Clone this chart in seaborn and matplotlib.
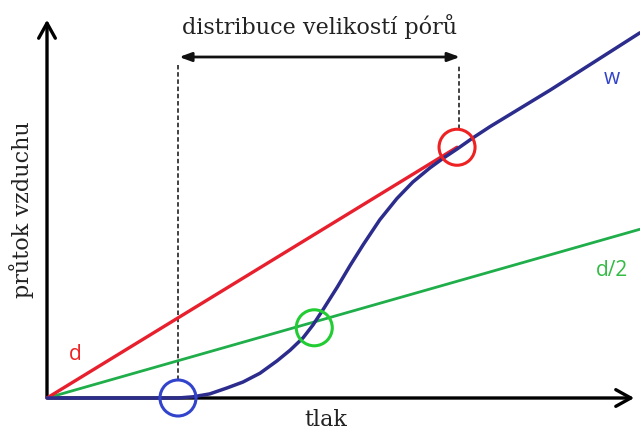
import matplotlib
matplotlib.use("Agg")
import matplotlib.pyplot as plt
import seaborn as sns
import pandas as pd
import numpy as np
from matplotlib.patches import Circle

sns.set_theme(style="white")
plt.rcParams['font.family'] = ['DejaVu Sans']

# ---- data (units: pressure vs air flow) ----
d_x = [0.0, 6.95]
d_y = [0.0, 4.25]
d2_x = [0.0, 10.05]
d2_y = [0.0, 2.86]
w_x = [0.0, 2.22, 2.47, 2.76, 3.05, 3.32, 3.61, 3.90, 4.12, 4.34, 4.51, 4.68, 4.92, 5.14, 5.36, 5.64, 5.93, 6.20, 6.49, 6.71, 6.95, 7.22, 7.51, 8.53, 10.05]
w_y = [0.0, 0.0, 0.02, 0.07, 0.17, 0.27, 0.42, 0.63, 0.81, 1.02, 1.24, 1.50, 1.88, 2.25, 2.60, 3.02, 3.38, 3.66, 3.90, 4.06, 4.22, 4.41, 4.60, 5.22, 6.19]
circle_x = [2.22, 4.53, 6.95]
circle_y = [0.0, 1.19, 4.25]
circle_colors = ["#3344cc", "#22cc33", "#ee2222"]
range_start = 2.22
range_end = 6.95

title_text = "distribuce velikostí pórů"
xlabel_text = "tlak"
ylabel_text = "průtok vzduchu"

S = 59.0  # px per unit
fig = plt.figure(figsize=(6.4, 4.3), dpi=100)
ax = fig.add_axes([0, 0, 1, 1])
ax.set_xlim(-47 / S, (640 - 47) / S)
ax.set_ylim(-(430 - 398) / S, 398 / S)
ax.axis("off")

df_d = pd.DataFrame({"x": d_x, "y": d_y})
df_d2 = pd.DataFrame({"x": d2_x, "y": d2_y})
df_w = pd.DataFrame({"x": w_x, "y": w_y})

sns.lineplot(data=df_d2, x="x", y="y", ax=ax, color="#1fae4a", linewidth=2.0, sort=False, zorder=3)
sns.lineplot(data=df_d, x="x", y="y", ax=ax, color="#e8202e", linewidth=2.4, sort=False, zorder=3)
sns.lineplot(data=df_w, x="x", y="y", ax=ax, color="#2b2c8c", linewidth=2.5, sort=False, zorder=4)

# axes arrows
ax.annotate("", xy=(0, 381 / S), xytext=(0, -2 / S),
            arrowprops=dict(arrowstyle="->,head_length=0.9,head_width=0.5", lw=2.4, color="black"), zorder=2)
ax.annotate("", xy=(590 / S, 0), xytext=(-2 / S, 0),
            arrowprops=dict(arrowstyle="->,head_length=0.9,head_width=0.5", lw=2.4, color="black"), zorder=2)

# circles
for cx, cy, cc in zip(circle_x, circle_y, circle_colors):
    ax.add_patch(Circle((cx, cy), 18 / S, fill=False, edgecolor=cc, linewidth=2.2, zorder=5))

# dashed lines
ax.plot([range_start, range_start], [18 / S, 333 / S], ls=(0, (2.5, 1.5)), color="#333333", lw=1.3, zorder=2)
ax.plot([range_end + 0.03, range_end + 0.03], [4.25 + 18 / S, 333 / S], ls=(0, (2.5, 1.5)), color="#333333", lw=1.3, zorder=2)

# range arrow
ax.annotate("", xy=(range_start + 0.02, 341 / S), xytext=(range_end + 0.05, 341 / S),
            arrowprops=dict(arrowstyle="<|-|>,head_length=0.6,head_width=0.22", lw=2.0, color="#111111",
                            shrinkA=0, shrinkB=0))

ax.text(273 / S, 371 / S, title_text, ha="center", va="center", fontsize=16,
        family="DejaVu Serif", color="#222222")
ax.text(279 / S, -22 / S, xlabel_text, ha="center", va="center", fontsize=16,
        family="DejaVu Serif", color="#222222")
ax.text(-25 / S, 188 / S, ylabel_text, ha="center", va="center", fontsize=16, rotation=90,
        family="DejaVu Serif", color="#222222")

ax.text(565 / S, 320 / S, "w", ha="center", va="center", fontsize=15, color="#3344cc", family="Open Sans")
ax.text(565 / S, 128 / S, "d/2", ha="center", va="center", fontsize=15, color="#33bb44", family="Open Sans")
ax.text(28 / S, 43 / S, "d", ha="center", va="center", fontsize=15, color="#ee2222", family="Open Sans")

fig.savefig("out.png", dpi=100)
